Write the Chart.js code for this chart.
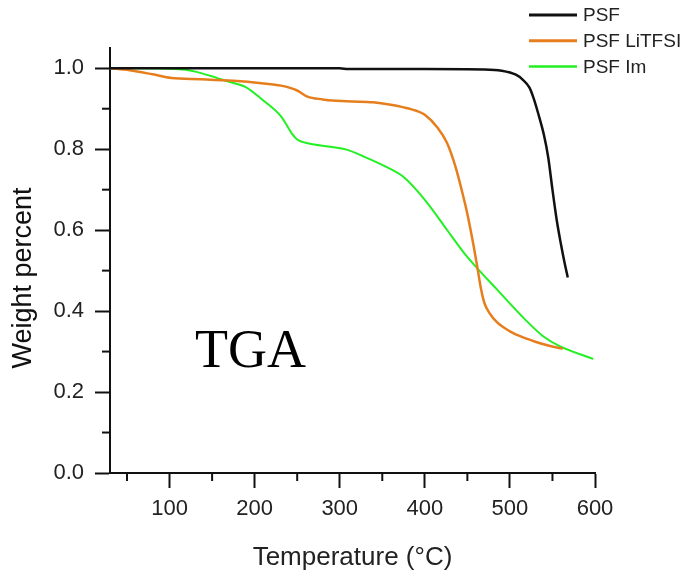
<!DOCTYPE html>
<html>
<head>
<meta charset="utf-8">
<script src="https://cdn.jsdelivr.net/npm/chart.js@4/dist/chart.umd.min.js"></script>
<style>
  html, body { margin: 0; padding: 0; background: #fff; }
  #wrap { width: 686px; height: 573px; }
</style>
</head>
<body>
<div id="wrap"><canvas id="tga" width="686" height="573"></canvas></div>
<script>
// temperature (°C) / weight fraction
const PSF_T = [30, 100, 200, 300, 310, 400, 470, 490, 507, 515, 523, 528, 533, 540, 545, 550, 555, 560, 564, 568];
const PSF_W = [1.0, 1.0, 1.0, 1.0, 0.998, 0.998, 0.997, 0.994, 0.984, 0.972, 0.952, 0.925, 0.89, 0.835, 0.78, 0.70, 0.625, 0.565, 0.522, 0.483];

const LITFSI_T = [30, 53, 80, 102, 137, 175, 208, 231, 250, 262, 280, 292, 315, 339, 360, 374, 390, 400, 415, 426, 436, 445, 450, 457, 462, 466, 470, 476, 485, 500, 512, 529, 545, 562];
const LITFSI_W = [1.0, 0.995, 0.985, 0.976, 0.973, 0.969, 0.963, 0.957, 0.945, 0.930, 0.923, 0.920, 0.918, 0.916, 0.910, 0.904, 0.895, 0.885, 0.853, 0.816, 0.757, 0.685, 0.64, 0.565, 0.505, 0.455, 0.42, 0.395, 0.372, 0.35, 0.338, 0.325, 0.315, 0.307];

const IM_T = [30, 60, 98, 119, 137, 150, 169, 190, 208, 231, 244, 250, 256, 272, 308, 328, 354, 374, 400, 426, 446, 462, 485, 518, 539, 559, 598];
const IM_W = [1.0, 1.0, 0.999, 0.996, 0.988, 0.980, 0.967, 0.953, 0.924, 0.881, 0.838, 0.824, 0.818, 0.811, 0.799, 0.782, 0.757, 0.733, 0.675, 0.601, 0.544, 0.505, 0.453, 0.379, 0.338, 0.313, 0.282];

const SERIES = ['PSF', 'PSF LiTFSI', 'PSF Im'];
const COLORS = ['#111111', '#E67E1E', '#22F022'];
const WIDTHS = [2.5, 2.5, 2];

const X_TICKS = [100, 200, 300, 400, 500, 600];
const X_MINOR = [50, 150, 250, 350, 450, 550];
const Y_TICKS = [0, 0.2, 0.4, 0.6, 0.8, 1.0];
const Y_MINOR = [0.1, 0.3, 0.5, 0.7, 0.9];

const AXIS = '#111';
const SANS = '"Liberation Sans", Arial, sans-serif';

function toPoints(xs, ys) {
  return xs.map((x, i) => ({ x, y: ys[i] }));
}

// minor ticks, the y title, the "TGA" note and the legend box
const extras = {
  id: 'extras',
  afterDraw(chart) {
    const { ctx, chartArea } = chart;
    const xs = chart.scales.x, ys = chart.scales.y;
    ctx.save();
    ctx.strokeStyle = AXIS;
    ctx.lineWidth = 2;
    X_MINOR.forEach(v => {
      const px = xs.getPixelForValue(v);
      ctx.beginPath();
      ctx.moveTo(px, chartArea.bottom);
      ctx.lineTo(px, chartArea.bottom + 8);
      ctx.stroke();
    });
    Y_MINOR.forEach(v => {
      const py = ys.getPixelForValue(v);
      ctx.beginPath();
      ctx.moveTo(chartArea.left, py);
      ctx.lineTo(chartArea.left - 8, py);
      ctx.stroke();
    });

    ctx.fillStyle = '#111';
    ctx.font = '27px ' + SANS;
    ctx.textAlign = 'center';
    ctx.textBaseline = 'middle';
    ctx.translate(24, 278);
    ctx.rotate(-Math.PI / 2);
    ctx.fillText('Weight percent', 0, 0);
    ctx.restore();

    ctx.save();
    ctx.fillStyle = '#000';
    ctx.font = '54px "Liberation Serif", "Times New Roman", serif';
    ctx.textBaseline = 'alphabetic';
    ctx.fillText('TGA', 195, 367);

    ctx.font = '19px ' + SANS;
    ctx.textBaseline = 'middle';
    chart.data.datasets.forEach((ds, i) => {
      const y = 15 + i * 25.8;
      ctx.strokeStyle = ds.borderColor;
      ctx.lineWidth = ds.borderWidth + 0.5;
      ctx.beginPath();
      ctx.moveTo(529, y);
      ctx.lineTo(577, y);
      ctx.stroke();
      ctx.fillStyle = '#222';
      ctx.fillText(ds.label, 583, y + 1);
    });
    ctx.restore();
  }
};

const datasets = [
  toPoints(PSF_T, PSF_W),
  toPoints(LITFSI_T, LITFSI_W),
  toPoints(IM_T, IM_W)
].map((data, i) => ({
  label: SERIES[i],
  data,
  borderColor: COLORS[i],
  borderWidth: WIDTHS[i],
  pointRadius: 0,
  cubicInterpolationMode: 'monotone',
  fill: false
}));

new Chart(document.getElementById('tga'), {
  type: 'line',
  data: { datasets },
  options: {
    responsive: false,
    animation: false,
    layout: { padding: { top: 48, right: 91, left: 0, bottom: 0 } },
    plugins: { legend: { display: false }, tooltip: { enabled: false } },
    scales: {
      x: {
        type: 'linear',
        min: 30,
        max: 600,
        afterBuildTicks: s => { s.ticks = X_TICKS.map(v => ({ value: v })); },
        afterFit: s => { s.height = 100; },
        grid: { drawOnChartArea: false, tickLength: 15, tickWidth: 2, tickColor: AXIS },
        border: { color: AXIS, width: 2 },
        ticks: { color: '#222', font: { size: 22, family: SANS }, padding: 8, maxRotation: 0 },
        title: {
          display: true,
          text: 'Temperature (°C)',
          color: '#222',
          font: { size: 26, family: SANS },
          padding: { top: 0, bottom: 0 }
        }
      },
      y: {
        min: 0,
        max: 1.05,
        afterBuildTicks: s => { s.ticks = Y_TICKS.map(v => ({ value: v })); },
        afterFit: s => { s.width = 110; },
        grid: { drawOnChartArea: false, tickLength: 15, tickWidth: 2, tickColor: AXIS },
        border: { color: AXIS, width: 2 },
        ticks: { color: '#222', font: { size: 22, family: SANS }, padding: 11, callback: v => v.toFixed(1) }
      }
    }
  },
  plugins: [extras]
});
</script>
</body>
</html>
